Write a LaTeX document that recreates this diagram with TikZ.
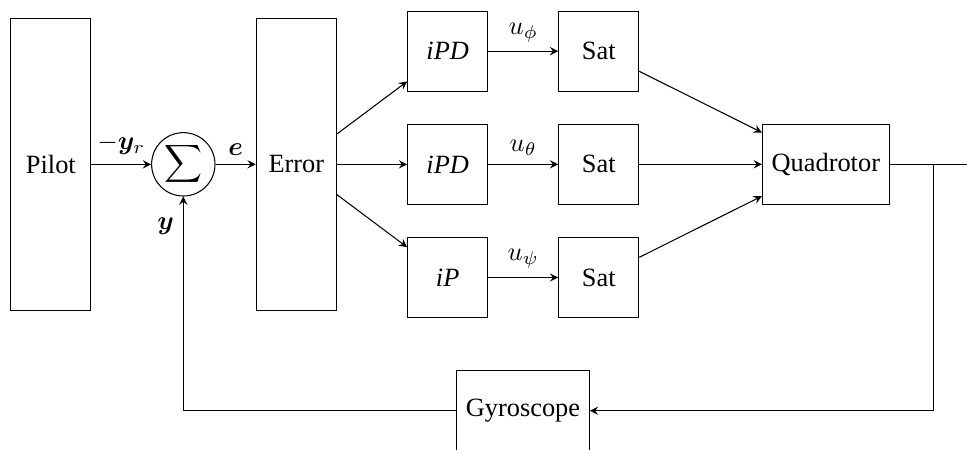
\documentclass[tikz,border=0pt]{standalone}
\usepackage{amsmath}
\usepackage{amssymb}
\usepackage{bm}
\usepackage{fontspec}
\setmainfont{Liberation Serif}
\usepackage{tikz}

\begin{document}
\begin{tikzpicture}[
    block/.style={draw, minimum width=1.067cm, minimum height=1.067cm, inner sep=3.5pt},
    tallblock/.style={block, minimum height=3.893cm},
    sumnode/.style={draw, circle, minimum size=0.845cm, inner sep=0pt},
    >=stealth]
    \clip (0,-3.796) rectangle (12.893,2.191);
    \node[tallblock] (pilot) at (0.678,0) {Pilot};
    \node[sumnode] (sum) at (2.444,0) {$\displaystyle\sum$};
    \node[tallblock] (error) at (3.951,0) {Error};
    \node[block] (ctrlphi) at (5.969,1.509) {\textit{iPD}};
    \node[block] (ctrltheta) at (5.969,0) {\textit{iPD}};
    \node[block] (ctrlpsi) at (5.969,-1.509) {\textit{iP}};
    \node[block] (satphi) at (7.983,1.509) {Sat};
    \node[block] (sattheta) at (7.983,0) {Sat};
    \node[block] (satpsi) at (7.983,-1.509) {Sat};
    \node[block] (quad) at (11.011,0) {Quadrotor};
    \node[block] (gyro) at (6.973,-3.285) {Gyroscope};
    \coordinate (branch) at (12.444,0);
    \coordinate (out) at (13.3,0);
    \draw[->] (pilot) -- node[above] {$-\bm{y}_r$} (sum);
    \draw[->] (sum) -- node[above] {$\bm{e}$} (error);
    \draw[->] (error) -- (ctrlphi);
    \draw[->] (error) -- (ctrltheta);
    \draw[->] (error) -- (ctrlpsi);
    \draw[->] (ctrlphi) -- node[above] {$u_\phi$} (satphi);
    \draw[->] (ctrltheta) -- node[above] {$u_\theta$} (sattheta);
    \draw[->] (ctrlpsi) -- node[above] {$u_\psi$} (satpsi);
    \draw[->] (satphi) -- (quad);
    \draw[->] (sattheta) -- (quad);
    \draw[->] (satpsi) -- (quad);
    \draw[->] (quad) -- (out);
    \draw[->] (branch) |- (gyro);
    \draw[->] (gyro) -| node[pos=0.93, left] {$\bm{y}$} (sum);
\end{tikzpicture}
\end{document}
